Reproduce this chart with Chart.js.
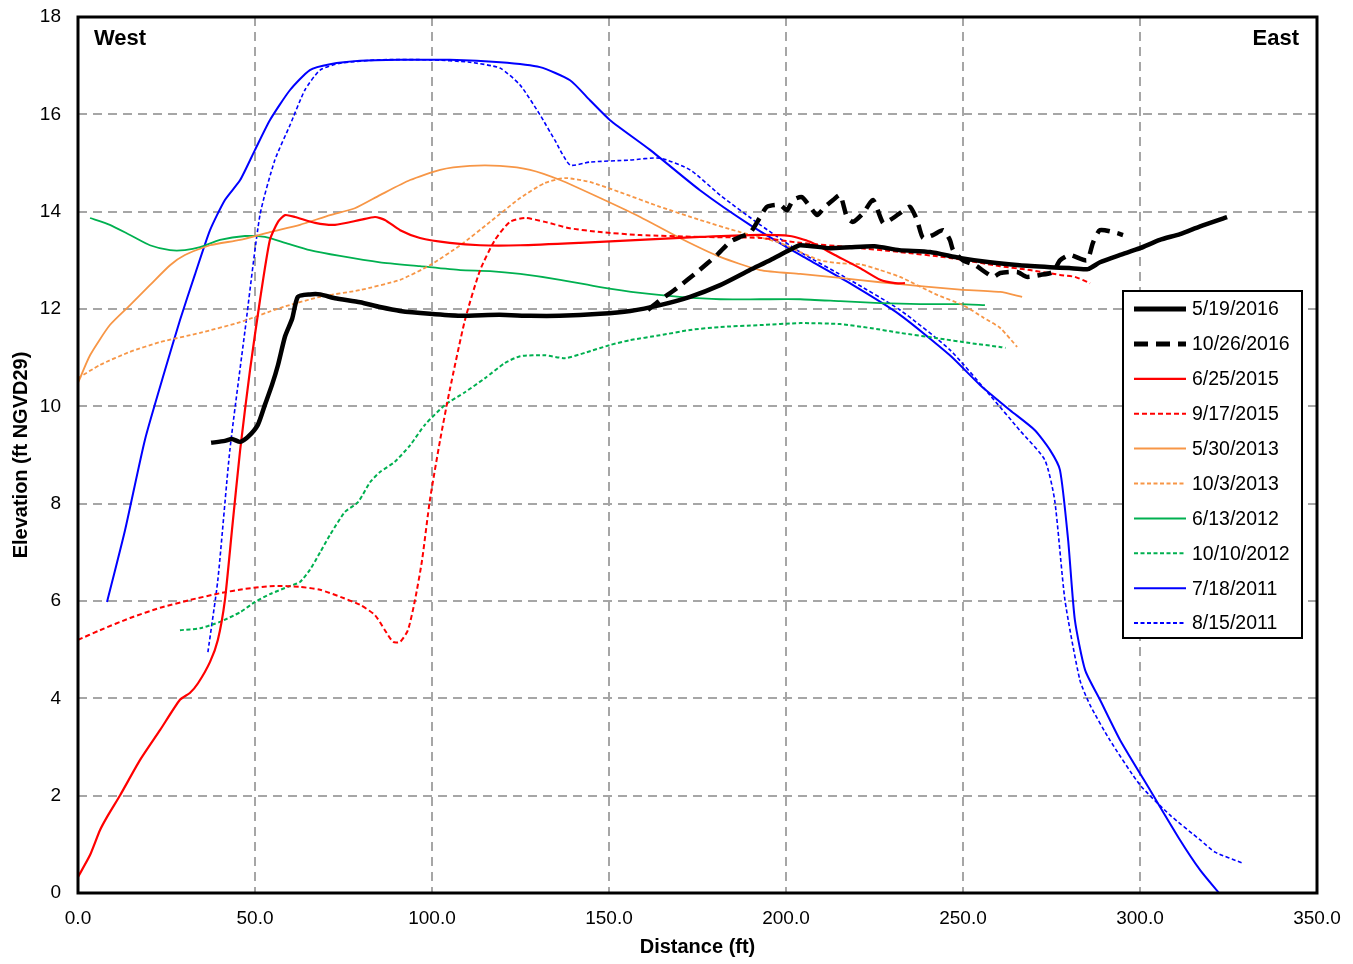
<!DOCTYPE html>
<html><head><meta charset="utf-8">
<script src="https://cdn.jsdelivr.net/npm/chart.js@4/dist/chart.umd.min.js"></script>
<style>html,body{margin:0;padding:0;background:#fff}#wrap{width:1353px;height:964px}</style>
</head><body><div id="wrap"><canvas id="c"></canvas></div>
<script>
const xTicks = [0,50,100,150,200,250,300,350];
const yTicks = [0,2,4,6,8,10,12,14,16,18];
const labels = ["5/19/2016","10/26/2016","6/25/2015","9/17/2015","5/30/2013","10/3/2013","6/13/2012","10/10/2012","7/18/2011","8/15/2011"];

const s2016a_x = [37.6,41.5,43.5,45.8,48,50.8,52.8,54.8,56.5,58.5,60.5,62.1,65.5,68.4,72.6,79.7,85.3,91,99.4,108,119,127.7,136,147.5,156,164.4,172.9,181.4,189.8,195.5,201,204,212.4,218,225,232,240.7,249,257.6,266,274.6,280,285.3,288.7,294.4,300,305.6,311.3,317,324.6];
const s2016a_y = [9.25,9.29,9.33,9.27,9.37,9.62,10.03,10.44,10.85,11.44,11.8,12.25,12.3,12.3,12.22,12.14,12.04,11.96,11.9,11.86,11.88,11.86,11.86,11.9,11.96,12.08,12.25,12.49,12.8,13.0,13.21,13.31,13.25,13.27,13.29,13.21,13.17,13.05,12.96,12.9,12.86,12.84,12.82,12.96,13.11,13.25,13.42,13.54,13.7,13.89];

const s2016b_x = [161,164.4,169.2,174.9,180.5,184.2,187,189.8,192.7,194.6,198.3,200.3,202,204.5,206.8,208.8,211,213.3,215.3,217.2,218.9,221.8,224.6,227.4,229.4,232.2,235,237,238.7,241.5,244.4,246.3,247.2,250,253.4,258.5,260.5,265.3,268,271.8,275.4,277.4,280.2,285,286.7,288.7,293.5,295.2];
const s2016b_y = [11.98,12.18,12.43,12.76,13.11,13.38,13.48,13.56,13.89,14.1,14.14,14.03,14.24,14.3,14.1,13.93,14.1,14.24,14.34,13.89,13.79,13.97,14.24,13.77,13.83,13.97,14.1,13.83,13.46,13.52,13.62,13.42,13.21,13.0,12.9,12.66,12.74,12.76,12.66,12.7,12.76,13.0,13.11,13.0,13.36,13.62,13.56,13.52];

const s2015a_x = [0,3.4,6.2,8.5,11.9,17.5,23.2,28.8,31.6,33.9,37.3,39.5,41.5,43.5,45.8,48.6,51.4,54.2,56.5,58.5,61.3,67,72.6,79.7,83.9,86.7,91,96.6,105,113.6,124.9,141.8,158.8,175.7,189.8,201.1,206.8,213.8,220.9,226.6,230.8,233.6];
const s2015a_y = [0.33,0.78,1.29,1.6,2.01,2.73,3.35,3.97,4.11,4.31,4.75,5.2,6.02,7.46,9.1,10.75,12.18,13.42,13.79,13.93,13.89,13.77,13.73,13.83,13.89,13.83,13.62,13.46,13.36,13.31,13.31,13.36,13.42,13.48,13.52,13.5,13.38,13.11,12.84,12.6,12.53,12.53];

const s2015b_x = [0,6.2,14.7,23.2,31.6,40.1,47.2,55.6,62.7,68.4,74.3,79.7,83.9,86.7,89,91,93.2,95.2,97.2,99.4,102.3,105,109.3,113.6,117.8,122,126.3,131.9,138.9,147.5,158.8,175.7,192.7,204,218,232.2,246.3,260.5,268.9,277.4,281.6,285.9];
const s2015b_y = [5.2,5.4,5.65,5.86,6.02,6.16,6.25,6.31,6.29,6.23,6.08,5.92,5.71,5.4,5.16,5.16,5.4,6.02,6.84,8.07,9.31,10.33,11.77,12.8,13.42,13.79,13.87,13.79,13.66,13.58,13.52,13.48,13.46,13.36,13.27,13.17,13.05,12.88,12.8,12.7,12.66,12.53];

const s2013a_x = [0,3.4,9,14.7,20.3,26,30.2,37.3,45.8,54.2,62.7,71.2,78.2,85.3,93.8,102.3,110.7,119.2,127.7,136.2,147.5,158.8,170,181.4,192.7,204,215.3,226.6,237.9,249.2,260.5,266.7];
const s2013a_y = [10.48,11.05,11.67,12.08,12.49,12.9,13.11,13.31,13.42,13.58,13.73,13.93,14.07,14.34,14.65,14.86,14.94,14.94,14.86,14.65,14.28,13.89,13.46,13.07,12.8,12.72,12.64,12.55,12.47,12.4,12.35,12.25];

const s2013b_x = [0,6.2,14.7,23.2,34.5,45.8,57,68.4,79.7,91,99.4,108,116.4,124.9,131.9,137.6,144.6,153.1,164.4,175.7,187,198.3,204,209.6,215.3,220.9,226.6,232.2,242.7,250,255.6,260.5,265.3];
const s2013b_y = [10.58,10.85,11.12,11.32,11.51,11.73,12.02,12.25,12.39,12.6,12.9,13.31,13.79,14.28,14.59,14.69,14.61,14.4,14.1,13.83,13.58,13.36,13.17,13.0,12.94,12.92,12.8,12.66,12.29,12.08,11.83,11.61,11.22];

const s2012a_x = [3.4,9,14.7,20.3,26,30.2,34.5,40.1,47.2,52.8,58.5,65.5,74,85.3,96.6,108,116.4,124.9,136.2,147.5,158.8,170,181.4,192.7,204,215.3,226.6,237.9,249.2,256.2];
const s2012a_y = [13.87,13.73,13.52,13.31,13.21,13.21,13.27,13.42,13.5,13.48,13.36,13.21,13.09,12.96,12.88,12.8,12.78,12.72,12.6,12.45,12.33,12.25,12.2,12.2,12.2,12.16,12.12,12.1,12.1,12.08];

const s2012b_x = [28.8,34.5,40.1,45.8,50,54.2,59.9,62.7,65.5,68.4,71.2,75.4,79.1,82.5,85.3,89.5,93.8,98,103.7,109.3,115,120.6,124.9,131.9,137.6,143.2,150.3,155.9,164.4,172.9,181.4,192.7,204,215.3,223.7,232.2,242.7,252,260.5,262];
const s2012b_y = [5.4,5.44,5.57,5.77,5.98,6.14,6.31,6.39,6.64,7.0,7.36,7.83,8.03,8.44,8.65,8.86,9.2,9.62,10.03,10.29,10.58,10.89,11.03,11.05,10.99,11.1,11.26,11.36,11.46,11.57,11.63,11.67,11.71,11.69,11.61,11.51,11.4,11.3,11.22,11.2];

const s2011a_x = [8.2,13.3,18.9,24.6,28.8,33,37.3,41.5,45.8,50,54.2,59.9,65.5,71.2,79.7,91,105,119.2,130.5,139,144.6,150.3,161.6,175.7,189.8,204,218,232.2,246.3,254.8,263.3,270.3,274.6,277.4,279.7,281.6,284.5,288.7,294.4,302.8,311.3,317,322.3];
const s2011a_y = [5.98,7.46,9.31,10.75,11.77,12.7,13.62,14.24,14.65,15.27,15.88,16.5,16.91,17.03,17.1,17.12,17.12,17.07,16.97,16.7,16.29,15.88,15.27,14.44,13.73,13.11,12.53,11.88,11.05,10.44,9.92,9.51,9.1,8.69,7.25,5.61,4.58,3.97,3.14,2.12,1.09,0.47,0];

const s2011b_x = [36.7,39.5,42.9,47.2,51.4,55.6,59.9,64.1,68.4,74,85.3,99.4,110.7,119.2,124.9,130.5,134.7,139,144.6,155.9,164.4,172.9,181.4,192.7,204,218,232.2,246.3,257.6,266,273.1,275.9,278.8,283,285.9,291.5,300,308.5,317,321.2,328.8];
const s2011b_y = [4.95,6.43,9.1,11.57,13.93,15.06,15.78,16.5,16.91,17.05,17.12,17.12,17.07,16.95,16.6,15.99,15.47,14.96,15.02,15.06,15.1,14.86,14.34,13.73,13.17,12.6,11.98,11.16,10.23,9.51,8.9,8.07,6.02,4.38,3.86,3.14,2.22,1.6,1.09,0.84,0.62];

const xs = [s2016a_x,s2016b_x,s2015a_x,s2015b_x,s2013a_x,s2013b_x,s2012a_x,s2012b_x,s2011a_x,s2011b_x];
const ys = [s2016a_y,s2016b_y,s2015a_y,s2015b_y,s2013a_y,s2013b_y,s2012a_y,s2012b_y,s2011a_y,s2011b_y];
const colors = ['#000000','#000000','#FF0000','#FF0000','#F79646','#F79646','#00B050','#00B050','#0000FF','#0000FF'];
const widths = [4.5,4.5,2.2,2,1.8,1.8,1.8,2,2,1.6];
const dashes = [[],[14,8],[],[5,3],[],[4,2.5],[],[4,2.5],[],[4,2.5]];

const datasets = labels.map((l,i)=>({
  label:l,
  data: xs[i].map((x,j)=>({x:x,y:ys[i][j]})),
  borderColor:colors[i], backgroundColor:colors[i],
  borderWidth:widths[i], borderDash:dashes[i],
  showLine:true, pointRadius:0, tension:0.2, fill:false
}));
datasets.forEach((d,i)=>{d.order = i;});

const FONT = '"Liberation Sans", Arial, sans-serif';

const framePlugin = {
  id:'frame',
  afterDatasetsDraw(chart){
    const {ctx, chartArea:a} = chart;
    ctx.save();
    ctx.strokeStyle='#000'; ctx.lineWidth=3; ctx.setLineDash([]);
    ctx.strokeRect(a.left, a.top, a.right-a.left, a.bottom-a.top);
    ctx.fillStyle='#000';
    ctx.font = 'bold 22px '+FONT;
    ctx.textBaseline='middle';
    ctx.textAlign='left'; ctx.fillText('West', a.left+16, a.top+22);
    ctx.textAlign='right'; ctx.fillText('East', a.right-18, a.top+22);
    const bx=1123, by=291, bw=179, bh=347;
    ctx.fillStyle='#fff'; ctx.fillRect(bx,by,bw,bh);
    ctx.lineWidth=2; ctx.strokeStyle='#000'; ctx.strokeRect(bx,by,bw,bh);
    ctx.font='19.5px '+FONT; ctx.textAlign='left';
    chart.data.datasets.forEach((d,i)=>{
      const y = by+18+i*34.9;
      ctx.strokeStyle=d.borderColor; ctx.lineWidth=Math.max(d.borderWidth, i<2?5:2);
      ctx.setLineDash(d.borderDash||[]);
      ctx.beginPath(); ctx.moveTo(bx+11,y); ctx.lineTo(bx+63,y); ctx.stroke();
      ctx.setLineDash([]);
      ctx.fillStyle='#000'; ctx.fillText(d.label, bx+69, y+1);
    });
    ctx.restore();
  }
};

new Chart(document.getElementById('c'),{
  type:'scatter',
  data:{datasets:datasets},
  options:{
    responsive:true, maintainAspectRatio:false, animation:false,
    layout:{padding:{top:17,right:36,left:0,bottom:0}},
    plugins:{legend:{display:false}, tooltip:{enabled:false}},
    scales:{
      x:{type:'linear', min:0, max:350,
        afterBuildTicks(s){ s.ticks = xTicks.map(v=>({value:v})); },
        afterFit(s){ s.height = 71; s.paddingLeft = 0; s.paddingRight = 0; },
        grid:{color:'#A6A6A6', lineWidth:2, drawTicks:false, tickLength:0},
        border:{display:false, dash:[9,6]},
        ticks:{padding:14, color:'#000', font:{family:FONT, size:19}, callback:v=>v.toFixed(1), maxRotation:0},
        title:{display:true, text:'Distance (ft)', color:'#000', font:{family:FONT, size:20, weight:'bold'}, padding:{top:4,bottom:5}}
      },
      y:{type:'linear', min:0, max:18,
        afterBuildTicks(s){ s.ticks = yTicks.map(v=>({value:v})); },
        afterFit(s){ s.width = 78; s.paddingTop = 0; s.paddingBottom = 0; },
        grid:{color:'#A6A6A6', lineWidth:2, drawTicks:false, tickLength:0},
        border:{display:false, dash:[9,6]},
        ticks:{padding:17, color:'#000', font:{family:FONT, size:19}},
        title:{display:true, text:'Elevation (ft NGVD29)', color:'#000', font:{family:FONT, size:20, weight:'bold'}, padding:{top:9,bottom:4}}
      }
    }
  },
  plugins:[framePlugin]
});
</script></body></html>
